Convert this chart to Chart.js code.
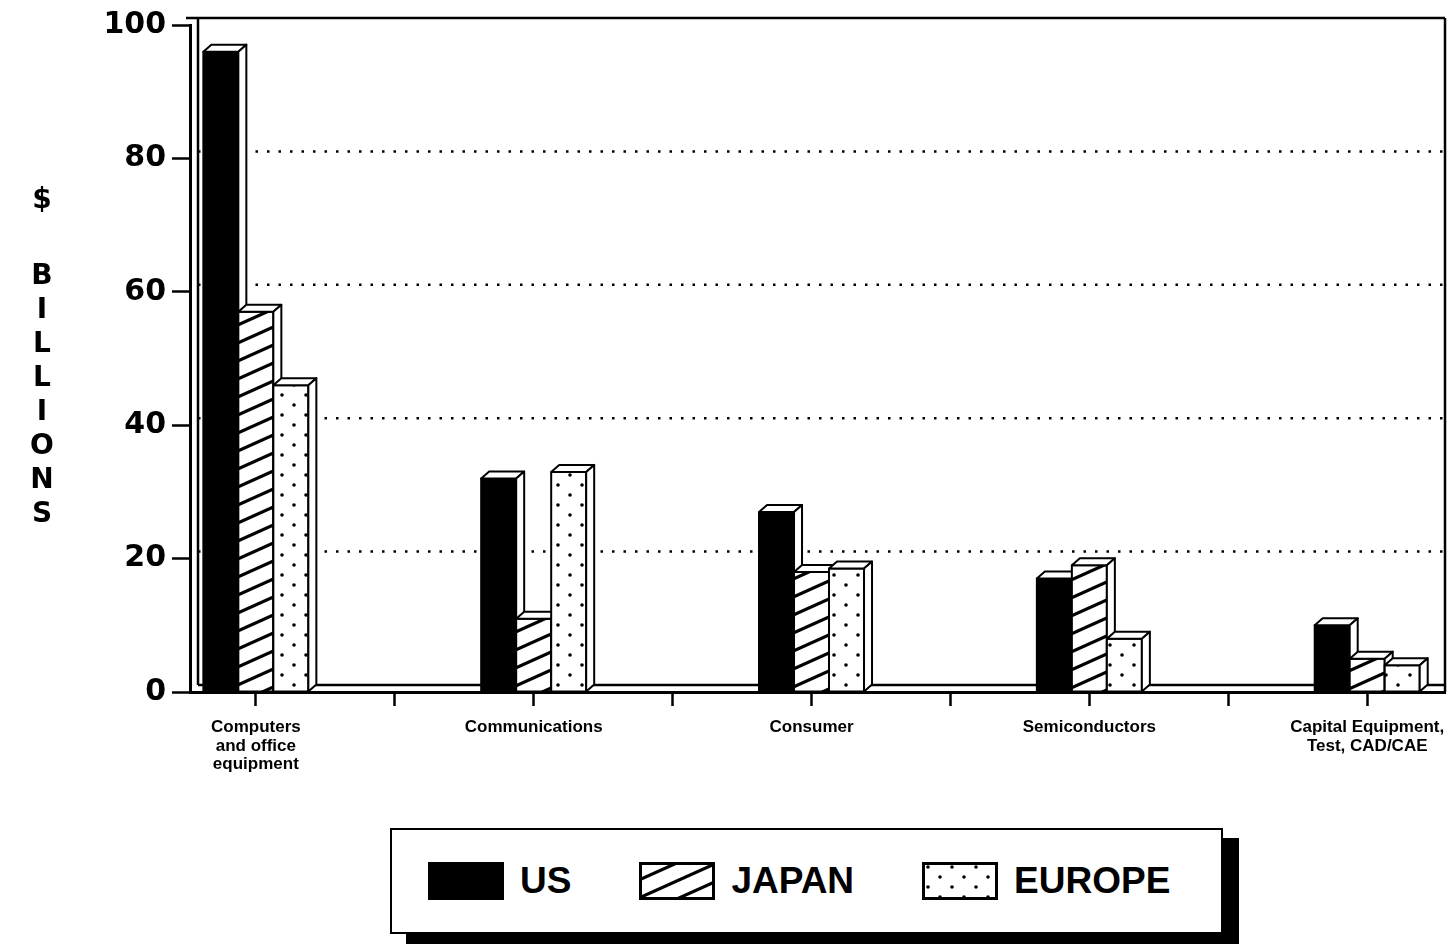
<!DOCTYPE html>
<html>
<head>
<meta charset="utf-8">
<title>$ Billions by sector</title>
<script src="https://cdn.jsdelivr.net/npm/chart.js@4.4.1/dist/chart.umd.min.js"></script>
<style>
  body { margin: 0; background: #fff; }
  #wrap { position: relative; width: 1452px; height: 952px; overflow: hidden; }
  #chart { position: absolute; left: 0; top: 0; }
  .ytitle {
    position: absolute; left: 22px; width: 40px; text-align: center;
    font: bold 28px "DejaVu Sans", sans-serif; line-height: 34px; color: #000;
  }
  #legend {
    position: absolute; left: 390px; top: 828px; width: 833px; height: 106px;
    box-sizing: border-box; border: 2px solid #000; background: #fff;
    box-shadow: 16px 10px 0 #000;
    display: flex; align-items: center; padding-left: 36px; gap: 68px;
  }
  .item { display: flex; align-items: center; gap: 16px; }
  .item span { font: bold 37px "Liberation Sans", Arial, sans-serif; color: #000; }
  .item canvas { display: block; }
</style>
</head>
<body>
<div id="wrap">
  <canvas id="chart" width="1452" height="800"></canvas>
  <div class="ytitle" style="top:182px">$</div>
  <div class="ytitle" style="top:258px">B<br>I<br>L<br>L<br>I<br>O<br>N<br>S</div>
  <div id="legend"></div>
</div>
<script>
// data ($ billions)
const categories = [
  ['Computers', 'and office', 'equipment'],
  'Communications',
  'Consumer',
  'Semiconductors',
  ['Capital Equipment,', 'Test, CAD/CAE']
];
const seriesNames = ['US', 'JAPAN', 'EUROPE'];
const usValues = [96, 32, 27, 17, 10];
const japanValues = [57, 11, 18, 19, 5];
const europeValues = [46, 33, 18.5, 8, 4];
const yTicks = [0, 20, 40, 60, 80, 100];

const depthX = 8;
const depthY = 7;

// diagonal hatch, lines y = 18k - 0.45x
function hatchPattern(ctx) {
  const c = document.createElement('canvas');
  c.width = 40; c.height = 18;
  const g = c.getContext('2d');
  g.fillStyle = '#fff';
  g.fillRect(0, 0, 40, 18);
  g.strokeStyle = '#000';
  g.lineWidth = 3.2;
  for (let k = 0; k <= 2; k++) {
    g.beginPath();
    g.moveTo(-2, 18 * k + 0.9);
    g.lineTo(42, 18 * k - 18.9);
    g.stroke();
  }
  return ctx.createPattern(c, 'repeat');
}

function dotPattern(ctx) {
  const c = document.createElement('canvas');
  c.width = 24; c.height = 20;
  const g = c.getContext('2d');
  g.fillStyle = '#fff';
  g.fillRect(0, 0, 24, 20);
  g.fillStyle = '#000';
  [[6, 5], [18, 15]].forEach(([x, y]) => {
    g.beginPath();
    g.arc(x, y, 1.8, 0, Math.PI * 2);
    g.fill();
  });
  return ctx.createPattern(c, 'repeat');
}

const canvas = document.getElementById('chart');
const ctx = canvas.getContext('2d');
const fills = ['#000', hatchPattern(ctx), dotPattern(ctx)];

function toPoints(values) {
  return values.map((v, i) => ({ x: i, y: v }));
}

// back wall grid, walls and the 3d faces of the bars
const boxes3d = {
  id: 'boxes3d',
  beforeDatasetsDraw(chart) {
    const { ctx, chartArea: a, scales: { y } } = chart;
    const line = (x1, y1, x2, y2) => {
      ctx.beginPath(); ctx.moveTo(x1, y1); ctx.lineTo(x2, y2); ctx.stroke();
    };
    ctx.save();
    ctx.strokeStyle = '#000';
    ctx.lineWidth = 2.5;
    ctx.setLineDash([2.5, 9]);
    yTicks.slice(1, -1).forEach(v => {
      const py = y.getPixelForValue(v) - depthY;
      line(a.left + depthX, py, a.right, py);
    });
    ctx.setLineDash([]);
    const top = y.getPixelForValue(yTicks[yTicks.length - 1]) - depthY;
    const floor = y.getPixelForValue(0) - depthY;
    line(a.left - 4, top, a.right, top);
    line(a.left + depthX, top, a.left + depthX, floor);
    line(a.left + depthX, floor, a.right, floor);
    line(a.right, top, a.right, y.getPixelForValue(0));
    ctx.restore();
  },
  afterDatasetsDraw(chart) {
    const { ctx } = chart;
    ctx.save();
    ctx.strokeStyle = '#000';
    ctx.lineWidth = 2;
    ctx.lineJoin = 'round';
    chart.data.datasets.forEach((ds, i) => {
      chart.getDatasetMeta(i).data.forEach(bar => {
        const l = bar.x - bar.width / 2;
        const r = bar.x + bar.width / 2;
        const t = bar.y;
        const b = bar.base;
        ctx.fillStyle = fills[i];
        ctx.fillRect(l, t, r - l, b - t);
        ctx.strokeRect(l, t, r - l, b - t);
        ctx.fillStyle = '#fff';
        ctx.beginPath();
        ctx.moveTo(l, t);
        ctx.lineTo(l + depthX, t - depthY);
        ctx.lineTo(r + depthX, t - depthY);
        ctx.lineTo(r, t);
        ctx.closePath();
        ctx.fill(); ctx.stroke();
        ctx.beginPath();
        ctx.moveTo(r, t);
        ctx.lineTo(r + depthX, t - depthY);
        ctx.lineTo(r + depthX, b - depthY);
        ctx.lineTo(r, b);
        ctx.closePath();
        ctx.fill(); ctx.stroke();
      });
    });
    ctx.restore();
  }
};

const valueSets = [usValues, japanValues, europeValues];

new Chart(ctx, {
  type: 'bar',
  data: {
    datasets: seriesNames.map((name, i) => ({
      label: name,
      data: toPoints(valueSets[i]),
      backgroundColor: fills[i],
      borderColor: '#000',
      borderWidth: 2,
      barThickness: 35
    }))
  },
  options: {
    responsive: false,
    animation: false,
    devicePixelRatio: 1,
    layout: { padding: { top: 25, right: 7, left: 0, bottom: 0 } },
    plugins: { legend: { display: false }, tooltip: { enabled: false } },
    scales: {
      x: {
        type: 'linear',
        min: -0.237,
        max: 4.28,
        offset: false,
        afterBuildTicks(scale) {
          const ticks = [];
          for (let v = 0; v <= categories.length - 1; v += 0.5) ticks.push({ value: v });
          scale.ticks = ticks;
        },
        afterFit(scale) {
          scale.height = 108;
          scale.paddingLeft = 0;
          scale.paddingRight = 0;
        },
        border: { display: true, color: '#000', width: 3 },
        grid: {
          offset: false,
          drawOnChartArea: false,
          drawTicks: true,
          tickLength: 14,
          tickWidth: 2.5,
          tickColor: '#000'
        },
        ticks: {
          autoSkip: false,
          maxRotation: 0,
          minRotation: 0,
          padding: 12,
          color: '#000',
          font: { family: '"Liberation Sans Narrow", "Arial Narrow", sans-serif', size: 17, weight: 'bold', lineHeight: 1.1 },
          callback: v => Number.isInteger(v) ? categories[v] : ''
        }
      },
      y: {
        min: 0,
        max: 100,
        afterBuildTicks(scale) { scale.ticks = yTicks.map(v => ({ value: v })); },
        afterFit(scale) { scale.width = 190; },
        border: { display: true, color: '#000', width: 3 },
        grid: {
          drawOnChartArea: false,
          drawTicks: true,
          tickLength: 18,
          tickWidth: 2.5,
          tickColor: '#000'
        },
        ticks: {
          padding: 6,
          color: '#000',
          font: { family: '"DejaVu Sans", sans-serif', size: 30, weight: 'bold' }
        }
      }
    }
  },
  plugins: [boxes3d]
});

// legend with the same fills as the bars
const legend = document.getElementById('legend');
seriesNames.forEach((name, i) => {
  const item = document.createElement('div');
  item.className = 'item';
  const sw = document.createElement('canvas');
  sw.width = 76; sw.height = 38;
  const g = sw.getContext('2d');
  g.fillStyle = i === 0 ? '#000' : (i === 1 ? hatchPattern(g) : dotPattern(g));
  g.fillRect(0, 0, 76, 38);
  g.strokeStyle = '#000';
  g.lineWidth = 3;
  g.strokeRect(1.5, 1.5, 73, 35);
  const label = document.createElement('span');
  label.textContent = name;
  item.appendChild(sw);
  item.appendChild(label);
  legend.appendChild(item);
});
</script>
</body>
</html>
